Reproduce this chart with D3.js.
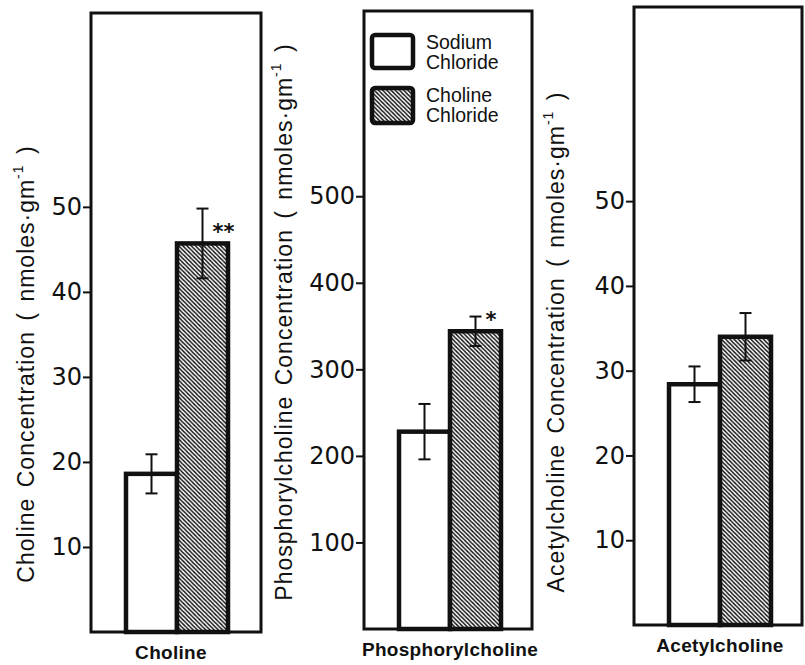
<!DOCTYPE html>
<html>
<head>
<meta charset="utf-8">
<script src="https://cdn.jsdelivr.net/npm/d3@7"></script>
<style>
  body { margin: 0; background: #fff; }
  svg text { font-family: "Liberation Sans", Arial, sans-serif; fill: #111; }
</style>
</head>
<body>
<svg id="chart" width="805" height="665"></svg>
<script>
// data
let categories = ["Choline", "Phosphorylcholine", "Acetylcholine"];
let yTitles = ["Choline Concentration", "Phosphorylcholine Concentration", "Acetylcholine Concentration"];
let sodium = [18.6, 228, 28.4];
let sodiumErr = [2.3, 32, 2.1];
let choline = [45.7, 344, 34.0];
let cholineErr = [4.1, 17, 2.8];
let signif = ["**", "*", ""];
let yMax = [72.8, 714, 72.9];
let yTicks = [[10, 20, 30, 40, 50], [100, 200, 300, 400, 500], [10, 20, 30, 40, 50]];
let groups = ["Sodium\nChloride", "Choline\nChloride"];

let svg = d3.select("#chart");

// hatch for choline chloride bars
let defs = svg.append("defs");
let pat = defs.append("pattern")
    .attr("id", "hatch")
    .attr("patternUnits", "userSpaceOnUse")
    .attr("width", 4.2)
    .attr("height", 4.2);
pat.append("rect").attr("width", 4.2).attr("height", 4.2).attr("fill", "#fff");
pat.append("path")
    .attr("d", "M-1,-1 L5.2,5.2 M-1,3.2 L1,5.2 M3.2,-1 L5.2,1")
    .attr("stroke", "#111")
    .attr("stroke-width", 1.4);

// panel frames in pixels
let panels = [
    {left: 91, right: 261, top: 13, bottom: 632, titleX: 26, titleY: 364},
    {left: 364, right: 532, top: 11, bottom: 629, titleX: 284, titleY: 322},
    {left: 634, right: 802, top: 7, bottom: 625, titleX: 556, titleY: 342}
];

panels.forEach((p, i) => {
    let y = d3.scaleLinear().domain([0, yMax[i]]).range([p.bottom, p.top]);
    let x = d3.scaleBand().domain([0, 1]).range([p.left + 35, p.left + 137]).padding(0);
    let g = svg.append("g");

    // bars
    let vals = [sodium[i], choline[i]];
    let errs = [sodiumErr[i], cholineErr[i]];
    g.selectAll("rect.bar")
        .data(vals)
        .join("rect")
        .attr("class", "bar")
        .attr("x", (d, j) => x(j))
        .attr("y", d => y(d))
        .attr("width", x.bandwidth())
        .attr("height", d => y(0) - y(d))
        .attr("fill", (d, j) => j == 0 ? "#fff" : "url(#hatch)")
        .attr("stroke", "#111")
        .attr("stroke-width", 4.5);

    // error bars
    let cap = 6;
    vals.forEach((v, j) => {
        let cx = x(j) + x.bandwidth() / 2;
        g.append("line")
            .attr("x1", cx).attr("x2", cx)
            .attr("y1", y(v - errs[j])).attr("y2", y(v + errs[j]))
            .attr("stroke", "#111").attr("stroke-width", 2);
        [v - errs[j], v + errs[j]].forEach(e => {
            g.append("line")
                .attr("x1", cx - cap).attr("x2", cx + cap)
                .attr("y1", y(e)).attr("y2", y(e))
                .attr("stroke", "#111").attr("stroke-width", 2);
        });
    });

    // significance stars, just above the bar top
    if (signif[i]) {
        g.append("text")
            .attr("x", x(1) + x.bandwidth() / 2 + 10)
            .attr("y", y(choline[i]) - 4)
            .attr("font-size", 21)
            .attr("font-weight", "bold")
            .style("font-family", "DejaVu Sans, sans-serif")
            .text(signif[i]);
    }

    // frame
    g.append("rect")
        .attr("x", p.left).attr("y", p.top)
        .attr("width", p.right - p.left).attr("height", p.bottom - p.top)
        .attr("fill", "none")
        .attr("stroke", "#111")
        .attr("stroke-width", 3);

    // y axis
    let axis = g.append("g")
        .attr("transform", `translate(${p.left},0)`)
        .call(d3.axisLeft(y).tickValues(yTicks[i]).tickSize(8).tickPadding(1).tickFormat(d3.format("d")));
    axis.select(".domain").remove();
    axis.selectAll("line").attr("stroke", "#111").attr("stroke-width", 2);
    axis.selectAll("text").attr("font-size", 24).style("font-family", "DejaVu Sans, sans-serif").attr("fill", "#111");

    // y title
    let t = g.append("text")
        .attr("transform", `translate(${p.titleX},${p.titleY}) rotate(-90)`)
        .attr("text-anchor", "middle")
        .attr("dominant-baseline", "central")
        .attr("font-size", 23)
        .attr("letter-spacing", 1)
        .attr("word-spacing", 3);
    t.append("tspan").text(yTitles[i] + " ( nmoles·gm");
    t.append("tspan").attr("dy", -8).attr("font-size", 14).text("-1");
    t.append("tspan").attr("dy", 8).text(" )");

    // x label
    g.append("text")
        .attr("x", x(1) - (i == 0 ? 6 : 0))
        .attr("y", p.bottom + 27)
        .attr("text-anchor", "middle")
        .attr("font-size", 19)
        .attr("font-weight", "bold")
        .attr("letter-spacing", 0.3)
        .text(categories[i]);
});

// legend inside the middle panel
let lg = svg.append("g").attr("transform", "translate(372,35)");
groups.forEach((name, j) => {
    let row = lg.append("g").attr("transform", `translate(0,${j * 53})`);
    row.append("rect")
        .attr("x", 0).attr("y", 0)
        .attr("width", 41).attr("height", j == 0 ? 33 : 35)
        .attr("rx", 3)
        .attr("fill", j == 0 ? "#fff" : "url(#hatch)")
        .attr("stroke", "#111")
        .attr("stroke-width", 4.5);
    name.split("\n").forEach((line, k) => {
        row.append("text")
            .attr("x", 54)
            .attr("y", 14 + k * 20)
            .attr("font-size", 19.5)
            .text(line);
    });
});
</script>
</body>
</html>
